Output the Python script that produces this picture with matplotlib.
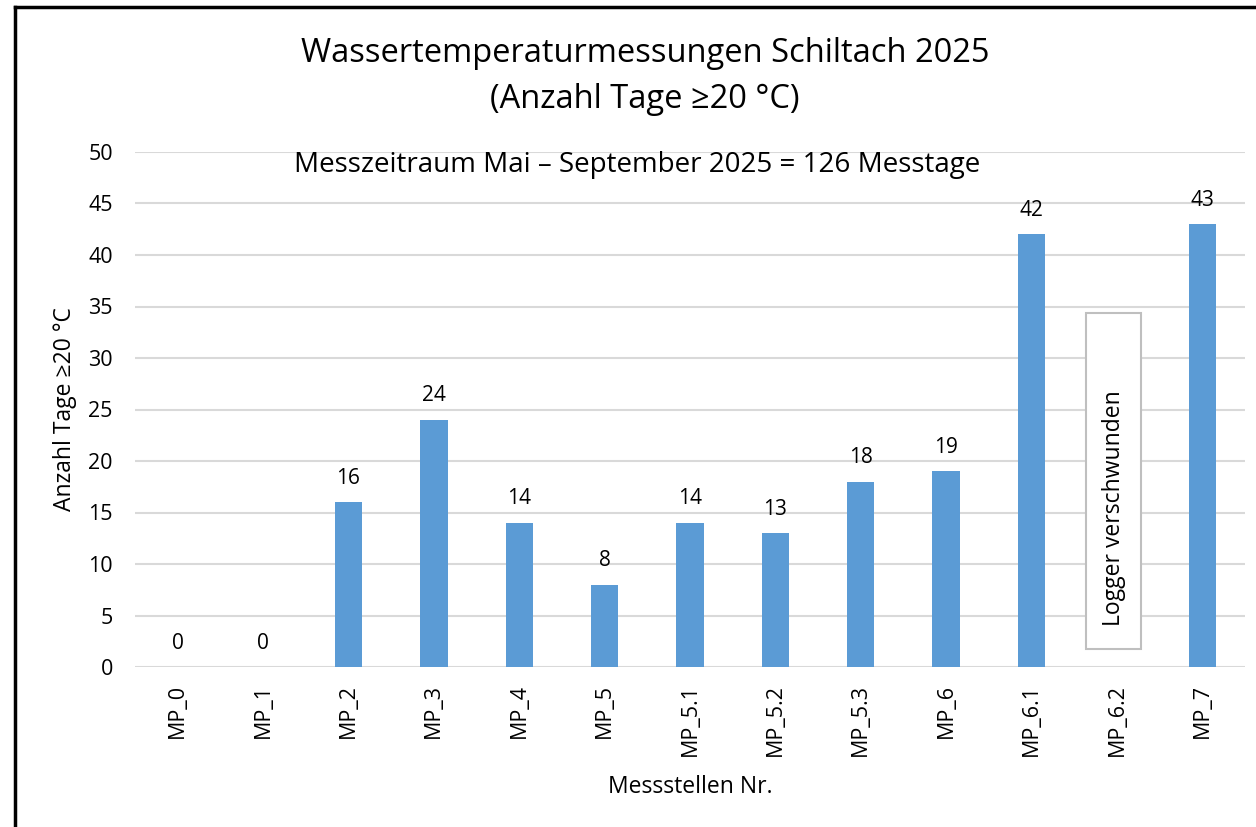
import numpy as np
import matplotlib.pyplot as plt
from matplotlib.patches import Rectangle

labels = ['MP_0', 'MP_1', 'MP_2', 'MP_3', 'MP_4', 'MP_5', 'MP_5.1', 'MP_5.2',
          'MP_5.3', 'MP_6', 'MP_6.1', 'MP_6.2', 'MP_7']
tage = [0, 0, 16, 24, 14, 8, 14, 13, 18, 19, 42, np.nan, 43]
missing_idx = 11
missing_text = 'Logger verschwunden'

plt.rcParams['font.family'] = ['Open Sans', 'DejaVu Sans']

fig = plt.figure(figsize=(12.56, 8.27), dpi=100)
ax = fig.add_axes([135/1256, 1 - 667/827, 1110/1256, 515/827])

x = np.arange(len(labels))
vals = np.nan_to_num(np.array(tage, dtype=float))
ax.bar(x, vals, width=0.32, color='#5b9bd5', zorder=3)
for i, v in enumerate(tage):
    if not np.isnan(v):
        ax.text(i, v + 1.3, '%d' % v, ha='center', va='bottom', fontsize=15)

# box for the lost logger
ax.add_patch(Rectangle((missing_idx - 0.36, 1.75), 0.64, 32.6, facecolor='white',
                       edgecolor='#bfbfbf', lw=1.5, zorder=4))
ax.text(missing_idx - 0.04, 15.4, missing_text, rotation=90, ha='center', va='center',
        fontsize=16.5, zorder=5)

ax.set_xlim(-0.5, len(labels) - 0.5)
ax.set_ylim(0, 50)
ax.set_yticks(np.arange(0, 51, 5))
ax.set_xticks(x)
ax.set_xticklabels(labels, rotation=90, fontsize=15.5)
ax.tick_params(axis='y', labelsize=15.5, length=0, pad=16)
ax.tick_params(axis='x', length=0, pad=12)
ax.grid(axis='y', color='#d9d9d9', lw=1.5, zorder=0)
for s in ax.spines.values():
    s.set_visible(False)

ax.set_xlabel('Messstellen Nr.', fontsize=16.5, labelpad=14)
ax.set_ylabel('Anzahl Tage ≥20 °C', fontsize=16.5, labelpad=8)

fig.text(645/1256, 1 - 54/827, 'Wassertemperaturmessungen Schiltach 2025',
         ha='center', va='center', fontsize=23.5)
fig.text(645/1256, 1 - 100/827, '(Anzahl Tage ≥20 °C)', ha='center', va='center', fontsize=23.5)
fig.text(637/1256, 1 - 165/827, 'Messzeitraum Mai – September 2025 = 126 Messtage',
         ha='center', va='center', fontsize=20)

# outer chart frame (only top and left visible)
fig.add_artist(plt.Line2D([15/1256, 15/1256], [0, 1 - 7/827], color='black', lw=2.5))
fig.add_artist(plt.Line2D([15/1256, 1], [1 - 7/827, 1 - 7/827], color='black', lw=2.5))

fig.savefig('out.png', dpi=100)
